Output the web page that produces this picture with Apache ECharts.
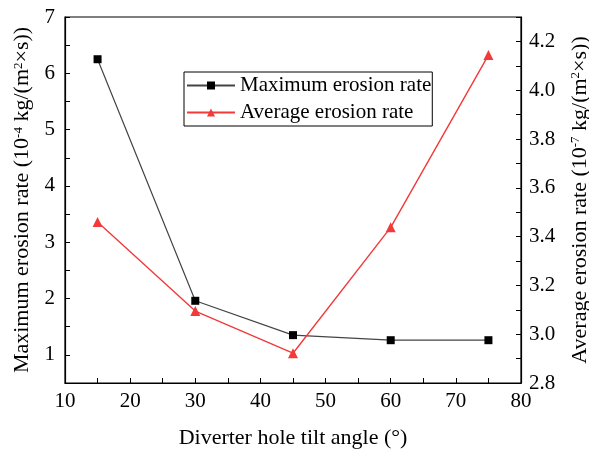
<!DOCTYPE html>
<html><head><meta charset="utf-8">
<script src="https://cdn.jsdelivr.net/npm/echarts@6/dist/echarts.min.js"></script>
<style>html,body{margin:0;padding:0;background:#fff}#c{width:589px;height:453px}</style>
</head><body><div id="c"></div>
<script>
const angles = [15, 30, 45, 60, 75];
const maxErosion = [6.25, 1.96, 1.35, 1.26, 1.26];
const avgErosion = [3.46, 3.095, 2.922, 3.438, 4.144];
const FONT = 'Liberation Serif';

const chart = echarts.init(document.getElementById('c'), null, {renderer: 'canvas'});
const sup = {fontSize: 13, fontFamily: FONT, color: '#000', verticalAlign: 'top', padding: [0, 0, 9, 0]};
const nameRich = {sup: sup};
chart.setOption({
  animation: false,
  backgroundColor: '#fff',
  grid: {left: 65, right: 68, top: 17, bottom: 70, show: true, borderColor: '#000', borderWidth: 1.2,
         containLabel: false, outerBoundsMode: 'none'},
  legend: {
    left: 184, top: 72, orient: 'vertical',
    data: ['Maximum erosion rate', 'Average erosion rate'],
    borderColor: '#000', borderWidth: 1, padding: [3, 1, 3, 2],
    itemWidth: 48, itemHeight: 10, itemGap: 6,
    textStyle: {fontFamily: FONT, fontSize: 21, color: '#000'}
  },
  xAxis: {
    type: 'value', min: 10, max: 80, interval: 5,
    name: 'Diverter hole tilt angle (°)', nameLocation: 'middle', nameGap: 44,
    nameTextStyle: {fontFamily: FONT, fontSize: 22, color: '#000'},
    axisLine: {show: true, lineStyle: {color: '#000', width: 1.2}},
    axisTick: {inside: true, length: 5, lineStyle: {color: '#000'}},
    axisLabel: {fontFamily: FONT, fontSize: 21, color: '#000', margin: 8,
      formatter: v => (Math.round(v) % 10 === 0 ? String(Math.round(v)) : '')},
    splitLine: {show: false}
  },
  yAxis: [{
    type: 'value', min: 0.5, max: 7, interval: 0.5, position: 'left',
    name: 'Maximum erosion rate (10{sup|-4} kg/(m{sup|2}×s))', nameLocation: 'middle', nameGap: 23,
    nameTextStyle: {fontFamily: FONT, fontSize: 22, color: '#000', rich: nameRich},
    axisLine: {show: true, lineStyle: {color: '#000', width: 1.2}},
    axisTick: {inside: true, length: 5, lineStyle: {color: '#000'}},
    axisLabel: {fontFamily: FONT, fontSize: 21, color: '#000', margin: 10,
      formatter: v => (Math.abs(v - Math.round(v)) < 1e-6 ? String(Math.round(v)) : '')},
    splitLine: {show: false}
  }, {
    type: 'value', min: 2.8, max: 4.3, interval: 0.1, position: 'right',
    name: 'Average erosion rate (10{sup|-7} kg/(m{sup|2}×s))', nameLocation: 'middle', nameGap: 48,
    nameRotate: 90,
    nameTextStyle: {fontFamily: FONT, fontSize: 22, color: '#000', rich: nameRich},
    axisLine: {show: true, lineStyle: {color: '#000', width: 1.2}},
    axisTick: {inside: true, length: 5, lineStyle: {color: '#000'}},
    axisLabel: {fontFamily: FONT, fontSize: 21, color: '#000', margin: 8,
      formatter: v => { const k = Math.round(v * 10); return (k % 2 === 0 && k <= 42) ? (k / 10).toFixed(1) : ''; }},
    splitLine: {show: false}
  }],
  series: [{
    name: 'Maximum erosion rate', type: 'line', yAxisIndex: 0,
    data: angles.map((a, i) => [a, maxErosion[i]]),
    symbol: 'rect', symbolSize: 8,
    lineStyle: {color: '#444', width: 1.2},
    itemStyle: {color: '#000'}
  }, {
    name: 'Average erosion rate', type: 'line', yAxisIndex: 1,
    data: angles.map((a, i) => [a, avgErosion[i]]),
    symbol: 'triangle', symbolSize: 10,
    lineStyle: {color: '#f23a3a', width: 1.4},
    itemStyle: {color: '#f23a3a'}
  }]
});
</script></body></html>
